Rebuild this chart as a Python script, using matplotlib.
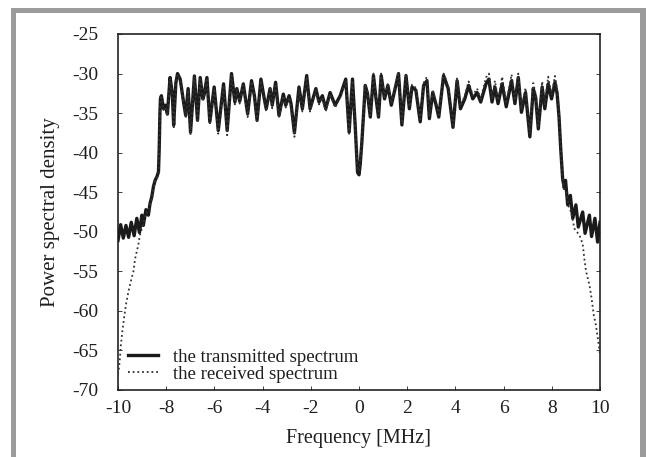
import matplotlib
matplotlib.use("Agg")
import matplotlib.pyplot as plt
from matplotlib.patches import Rectangle

plt.rcParams['font.family'] = ['Liberation Serif', 'DejaVu Serif']
plt.rcParams['axes.unicode_minus'] = False

# ---- data ----
tx_freq = [-10.0, -9.89, -9.78, -9.67, -9.56, -9.45, -9.33, -9.22, -9.11, -9.01, -8.95, -8.84, -8.74,
           -8.67, -8.6, -8.53, -8.46, -8.38, -8.32, -8.29, -8.26, -8.24, -8.2, -8.11, -8.03, -7.95,
           -7.84, -7.75, -7.69, -7.6, -7.53, -7.42, -7.28, -7.19, -7.09, -6.99, -6.83, -6.7, -6.59,
           -6.48, -6.42, -6.31, -6.19, -6.01, -5.84, -5.62, -5.47, -5.29, -5.15, -5.07, -4.95, -4.8,
           -4.62, -4.46, -4.34, -4.23, -4.07, -3.93, -3.85, -3.69, -3.6, -3.46, -3.32, -3.14, -3.04,
           -2.9, -2.82, -2.68, -2.49, -2.35, -2.17, -2.03, -1.79, -1.66, -1.52, -1.38, -1.2, -0.99,
           -0.78, -0.55, -0.41, -0.27, -0.16, -0.06, 0.0, 0.05, 0.12, 0.26, 0.35, 0.47, 0.6, 0.7,
           0.81, 0.92, 1.06, 1.2, 1.34, 1.5, 1.64, 1.78, 1.95, 2.09, 2.2, 2.36, 2.54, 2.68, 2.82,
           2.92, 3.06, 3.2, 3.31, 3.51, 3.7, 3.9, 4.07, 4.21, 4.39, 4.55, 4.72, 4.9, 5.05, 5.27,
           5.39, 5.52, 5.64, 5.77, 5.94, 6.11, 6.33, 6.47, 6.61, 6.74, 6.91, 7.09, 7.23, 7.33, 7.44,
           7.6, 7.71, 7.85, 7.99, 8.13, 8.22, 8.3, 8.37, 8.45, 8.52, 8.57, 8.66, 8.77, 8.87, 9.0,
           9.1, 9.28, 9.38, 9.56, 9.65, 9.79, 9.9, 10.0]
tx_psd = [-51.1, -49.1, -50.8, -49.2, -50.7, -48.8, -50.5, -48.3, -50.1, -47.9, -49.2, -47.2, -47.9,
          -46.4, -45.6, -44.3, -43.5, -43.0, -42.4, -39.5, -35.0, -33.2, -32.8, -34.45, -34.0, -35.1,
          -30.5, -32.4, -36.5, -31.2, -30.0, -30.7, -33.6, -35.3, -31.9, -37.4, -30.3, -35.9, -30.5,
          -33.2, -32.6, -30.5, -36.1, -31.7, -37.2, -31.3, -37.2, -30.0, -33.6, -31.9, -33.5, -31.3,
          -35.1, -30.9, -32.8, -35.9, -30.7, -33.2, -34.45, -31.9, -34.0, -31.1, -35.3, -32.6, -34.0,
          -32.8, -33.8, -37.5, -31.7, -34.45, -30.25, -34.45, -31.9, -33.6, -32.8, -34.45, -32.4, -34.0,
          -32.8, -30.7, -37.4, -30.7, -36.5, -42.5, -42.8, -41.5, -38.6, -31.5, -32.5, -35.5, -30.25, -33.0,
          -35.5, -30.25, -33.2, -31.5, -34.0, -31.9, -30.0, -36.5, -30.25, -34.45, -31.7, -32.1, -36.1, -31.5, -30.9,
          -35.7, -32.4, -34.0, -35.5, -30.25, -31.9, -36.8, -30.9, -34.45, -33.2, -31.5, -33.2, -32.4, -33.6, -31.3,
          -30.7, -33.6, -31.7, -33.8, -31.3, -34.2, -30.9, -33.8, -30.5, -34.9, -32.4, -38.0, -31.9, -33.0, -37.0,
          -31.7, -34.45, -31.3, -33.2, -31.1, -32.5, -35.5, -39.5, -43.3, -44.5, -43.5, -46.6, -45.4, -48.3, -46.6,
          -49.4, -47.5, -50.2, -47.9, -50.6, -48.3, -51.3, -48.8]

rx_freq = [-10.0, -9.96, -9.92, -9.88, -9.82, -9.75, -9.67, -9.57, -9.47, -9.36, -9.29, -9.16, -9.09,
           -8.97, -8.84, -8.74, -8.67, -8.6, -8.53, -8.46, -8.38, -8.32, -8.29, -8.26, -8.24, -8.2,
           -8.11, -8.03, -7.95, -7.84, -7.75, -7.69, -7.6, -7.53, -7.42, -7.28, -7.19, -7.09, -6.99,
           -6.83, -6.7, -6.59, -6.48, -6.42, -6.31, -6.19, -6.01, -5.84, -5.62, -5.47, -5.29, -5.15,
           -5.07, -4.95, -4.8, -4.62, -4.46, -4.34, -4.23, -4.07, -3.93, -3.85, -3.69, -3.6, -3.46,
           -3.32, -3.14, -3.04, -2.9, -2.82, -2.68, -2.49, -2.35, -2.17, -2.03, -1.79, -1.66, -1.52,
           -1.38, -1.2, -0.99, -0.78, -0.55, -0.41, -0.27, -0.16, -0.06, 0.0, 0.05, 0.12, 0.26, 0.35,
           0.47, 0.6, 0.7, 0.81, 0.92, 1.06, 1.2, 1.34, 1.5, 1.64, 1.78, 1.95, 2.09, 2.2, 2.36, 2.54,
           2.68, 2.82, 2.92, 3.06, 3.2, 3.31, 3.51, 3.7, 3.9, 4.07, 4.21, 4.39, 4.55, 4.72, 4.9, 5.05,
           5.27, 5.39, 5.52, 5.64, 5.77, 5.94, 6.11, 6.33, 6.47, 6.61, 6.74, 6.91, 7.09, 7.23, 7.33,
           7.44, 7.6, 7.71, 7.85, 7.99, 8.13, 8.22, 8.3, 8.37, 8.45, 8.52, 8.6, 8.7, 8.8, 8.94, 9.14,
           9.28, 9.35, 9.42, 9.56, 9.65, 9.74, 9.83, 9.93, 10.0]
rx_psd = [-68.0, -67.2, -66.0, -64.3, -62.6, -60.9, -59.2, -57.6, -56.3, -55.0, -53.4, -51.7, -50.4,
          -49.2, -47.6, -47.5, -46.6, -45.8, -44.5, -43.6, -43.1, -42.6, -39.8, -35.2, -33.5, -33.0,
          -34.6, -34.2, -35.4, -30.6, -32.6, -37.0, -31.4, -30.1, -30.9, -33.8, -35.6, -32.1, -37.8,
          -30.4, -36.2, -30.7, -33.5, -32.8, -30.6, -36.5, -31.9, -37.6, -31.5, -37.8, -30.2, -33.9,
          -32.1, -33.8, -31.5, -35.5, -31.0, -33.1, -36.3, -30.9, -33.5, -34.8, -32.0, -34.4, -31.3,
          -35.6, -32.8, -34.3, -33.0, -34.2, -38.0, -31.9, -34.8, -30.4, -34.8, -32.1, -33.9, -33.0,
          -34.8, -32.6, -34.3, -33.0, -30.9, -37.6, -30.9, -36.8, -42.0, -42.3, -41.0, -38.3, -31.3, -32.3,
          -35.3, -30.0, -32.8, -35.3, -30.0, -33.0, -31.2, -33.8, -31.6, -29.8, -36.3, -30.0, -34.2, -31.4,
          -31.8, -35.8, -31.2, -30.4, -35.4, -32.0, -33.7, -35.2, -30.0, -31.5, -36.5, -30.5, -34.1,
          -32.8, -31.0, -32.8, -31.9, -33.2, -30.5, -30.0, -33.2, -30.9, -33.4, -30.4, -33.8, -30.1,
          -33.4, -30.0, -34.5, -31.8, -37.6, -31.2, -32.6, -36.6, -31.0, -34.0, -30.4, -32.7, -30.3,
          -32.0, -35.2, -39.4, -43.5, -44.7, -45.0, -46.8, -47.5, -49.6, -50.4, -51.5, -53.4, -55.0,
          -56.7, -58.4, -60.5, -61.8, -63.9, -65.5]

x_ticks = [-10, -8, -6, -4, -2, 0, 2, 4, 6, 8, 10]
y_ticks = [-70, -65, -60, -55, -50, -45, -40, -35, -30, -25]
labels = ['the transmitted spectrum', 'the received spectrum']

# ---- figure ----
W, H = 646, 457
fig = plt.figure(figsize=(W / 100, H / 100), dpi=100)
fig.patch.set_facecolor('white')

gray = '#9b9b9b'
fig.add_artist(Rectangle((11 / W, (H - 13) / H), 1 - 11 / W, 5 / H, transform=fig.transFigure,
                         facecolor=gray, edgecolor='none'))
fig.add_artist(Rectangle((11 / W, 0), 5 / W, (H - 8) / H, transform=fig.transFigure,
                         facecolor=gray, edgecolor='none'))
fig.add_artist(Rectangle((640 / W, 0), 6 / W, (H - 8) / H, transform=fig.transFigure,
                         facecolor=gray, edgecolor='none'))

ax = fig.add_axes([118 / W, 1 - 390 / H, (600 - 118) / W, (390 - 34) / H])

ax.plot(tx_freq, tx_psd, color='#1a1a1a', lw=2.4, solid_joinstyle='round', label=labels[0], zorder=3)
ax.plot(rx_freq, rx_psd, color='#333333', lw=1.3, linestyle=(0, (1, 1.6)), label=labels[1], zorder=4)

ax.set_xlim(-10, 10)
ax.set_ylim(-70, -25)
ax.set_xticks(x_ticks)
ax.set_yticks(y_ticks)
ax.set_xticklabels([str(v) for v in x_ticks])
ax.set_yticklabels([str(v) for v in y_ticks])
ax.tick_params(direction='in', length=3, width=0.6, labelsize=14, colors='#1e1e1e',
               right=True, top=False)
ax.tick_params(axis='x', pad=7)
ax.tick_params(axis='y', pad=14)
for s in ax.spines.values():
    s.set_linewidth(1.2)
    s.set_color('#222222')

ax.set_xlabel('Frequency [MHz]', fontsize=14.5, labelpad=9, color='#1e1e1e')
ax.set_ylabel('Power spectral density', fontsize=15, labelpad=9, color='#1e1e1e')

leg = ax.legend(loc='lower left', bbox_to_anchor=(0.02, 0.02), frameon=False, fontsize=13.5,
                handlelength=1.6, handletextpad=0.8, labelspacing=0.0, borderpad=0, borderaxespad=0)
for t in leg.get_texts():
    t.set_color('#1e1e1e')

fig.savefig('out.png', dpi=100)
